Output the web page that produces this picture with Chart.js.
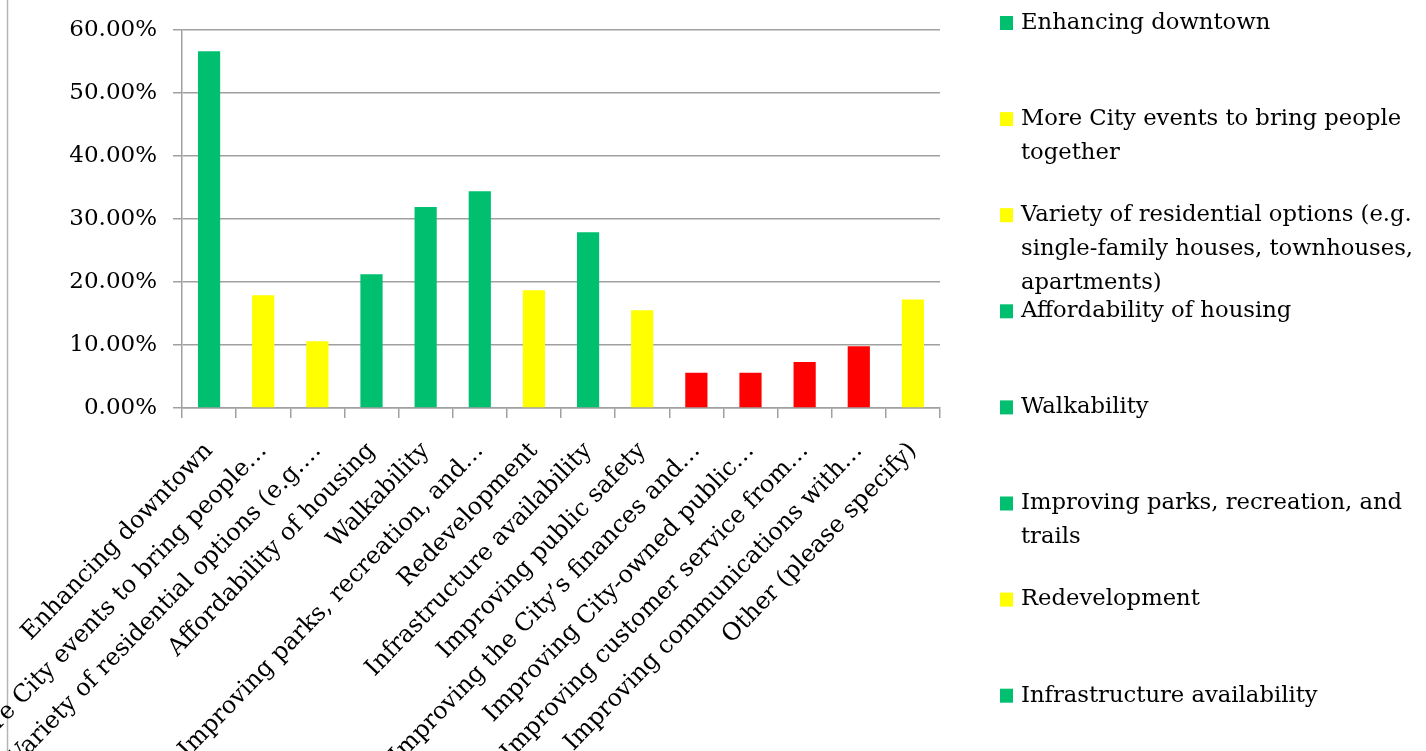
<!DOCTYPE html>
<html>
<head>
<meta charset="utf-8">
<script src="https://cdn.jsdelivr.net/npm/chart.js@4/dist/chart.umd.min.js"></script>
<style>
  html, body { margin: 0; padding: 0; background: #fff; }
  .chart-wrapper { width: 1426px; height: 751px; position: relative; }
</style>
</head>
<body>
<div class="chart-wrapper"><canvas id="chart"></canvas></div>
<script>
// Survey categories (full text, used in the legend)
const categories = [
  'Enhancing downtown',
  'More City events to bring people together',
  'Variety of residential options (e.g. single-family houses, townhouses, apartments)',
  'Affordability of housing',
  'Walkability',
  'Improving parks, recreation, and trails',
  'Redevelopment',
  'Infrastructure availability',
  'Improving public safety',
  "Improving the City's finances and budget",
  'Improving City-owned public facilities',
  'Improving customer service from City staff',
  'Improving communications with residents',
  'Other (please specify)'
];

// Axis labels as they appear (truncated)
const axisLabels = [
  'Enhancing downtown',
  'More City events to bring people…',
  'Variety of residential options (e.g.…',
  'Affordability of housing',
  'Walkability',
  'Improving parks, recreation, and…',
  'Redevelopment',
  'Infrastructure availability',
  'Improving public safety',
  'Improving the City\u2019s finances and…',
  'Improving City-owned public…',
  'Improving customer service from…',
  'Improving communications with…',
  'Other (please specify)'
];

// Percent of respondents
const values = [56.6, 17.9, 10.6, 21.2, 31.9, 34.4, 18.7, 27.9, 15.5, 5.6, 5.6, 7.3, 9.8, 17.2];

// Colour group per bar
const groups = ['g', 'y', 'y', 'g', 'g', 'g', 'y', 'g', 'y', 'r', 'r', 'r', 'r', 'y'];

const yTicks = [0, 10, 20, 30, 40, 50, 60];

const palette = { g: '#00BF6F', y: '#FFFF00', r: '#FF0000' };
const barColors = groups.map(g => palette[g]);

const FONT = "'DejaVu Serif', serif";
const CHART_LEFT = 182;
const CHART_TOP = 24;
const CHART_BOTTOM = 408;
const CHART_RIGHT = 940;
const W = 1426, H = 751;

// Thin frame line on the left edge
const framePlugin = {
  id: 'frame',
  beforeDraw(chart) {
    const ctx = chart.ctx;
    ctx.save();
    ctx.strokeStyle = '#B5B5B5';
    ctx.lineWidth = 1.5;
    ctx.beginPath();
    ctx.moveTo(7.5, 0);
    ctx.lineTo(7.5, H);
    ctx.stroke();
    ctx.restore();
  }
};

// Legend on the right, one item per category, fixed slots
const sideLegend = {
  id: 'sideLegend',
  afterDraw(chart) {
    const ctx = chart.ctx;
    const x0 = 1000, textX = 1021, maxW = 404;
    const slot = 96.1, firstY = 23, lineH = 34;
    ctx.save();
    ctx.font = '22.7px ' + FONT;
    ctx.textBaseline = 'middle';
    categories.forEach((label, i) => {
      const y = firstY + i * slot;
      if (y > H) return;
      // wrap text to the legend width
      const words = label.split(' ');
      const lines = [];
      let cur = '';
      words.forEach(w => {
        const test = cur ? cur + ' ' + w : w;
        if (ctx.measureText(test).width > maxW && cur) {
          lines.push(cur);
          cur = w;
        } else {
          cur = test;
        }
      });
      lines.push(cur);
      ctx.fillStyle = barColors[i];
      ctx.fillRect(x0, y - 7, 13, 14);
      ctx.fillStyle = '#000';
      lines.forEach((ln, k) => ctx.fillText(ln, textX, y + k * lineH));
    });
    ctx.restore();
  }
};

const ctx = document.getElementById('chart').getContext('2d');
new Chart(ctx, {
  type: 'bar',
  data: {
    labels: axisLabels,
    datasets: [{
      data: values,
      backgroundColor: barColors,
      borderWidth: 0,
      categoryPercentage: 1,
      barPercentage: 0.41
    }]
  },
  options: {
    responsive: true,
    maintainAspectRatio: false,
    animation: false,
    layout: {
      padding: { left: 0, top: CHART_TOP, right: W - CHART_RIGHT, bottom: 0 }
    },
    plugins: {
      legend: { display: false },
      tooltip: { enabled: false }
    },
    scales: {
      x: {
        grid: {
          display: true,
          drawOnChartArea: false,
          drawTicks: true,
          tickLength: 10,
          color: '#A0A0A0',
          lineWidth: 1.5,
          offset: true
        },
        border: { display: true, color: '#A0A0A0', width: 1.5 },
        ticks: {
          autoSkip: false,
          minRotation: 46,
          maxRotation: 46,
          padding: 19,
          color: '#000',
          font: { family: FONT, size: 24 }
        },
        afterFit(scale) { scale.height = H - CHART_BOTTOM; }
      },
      y: {
        min: 0,
        max: 60,
        afterBuildTicks(scale) { scale.ticks = yTicks.map(v => ({ value: v })); },
        grid: {
          color: '#A0A0A0',
          lineWidth: 1.5,
          tickLength: 9
        },
        border: { display: true, color: '#A0A0A0', width: 1.5 },
        ticks: {
          padding: 16,
          color: '#000',
          font: { family: FONT, size: 23 },
          callback: v => v.toFixed(2) + '%'
        },
        afterFit(scale) { scale.width = CHART_LEFT; }
      }
    }
  },
  plugins: [framePlugin, sideLegend]
});
</script>
</body>
</html>
